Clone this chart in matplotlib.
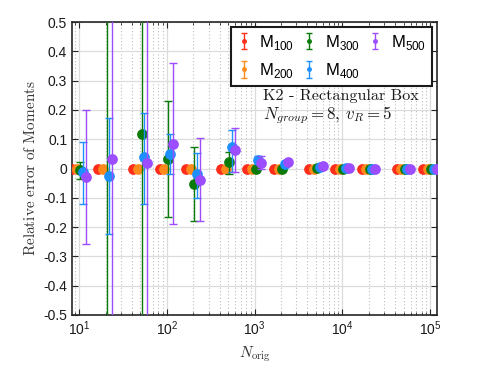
import numpy as np
import matplotlib
matplotlib.use("Agg")
import matplotlib.pyplot as plt
from matplotlib.ticker import LogLocator, NullFormatter

plt.rcParams['font.family'] = ['Liberation Sans', 'DejaVu Sans']
plt.rcParams['axes.unicode_minus'] = False

# ---- data ----
n_orig = [10, 20, 50, 100, 200, 500, 1000, 2000, 5000, 10000, 20000, 50000, 100000]
series_names = ['100', '200', '300', '400', '500']
series_colors = ['#ff2d1a', '#ff8a1c', '#0a7a0a', '#1e8fff', '#9b4dff']
x_shift = [0.83, 0.94, 1.03, 1.10, 1.19]   # horizontal jitter factors per series

m100_mean = [0, 0, 0, 0, 0, 0, 0, 0, 0, 0, 0, 0, 0]
m100_err = [0, 0, 0, 0, 0, 0, 0, 0, 0, 0, 0, 0, 0]
m200_mean = [0, 0, 0, 0, 0, 0, 0, 0, 0, 0, 0, 0, 0]
m200_err = [0, 0, 0, 0, 0, 0, 0, 0, 0, 0, 0, 0, 0]
m300_mean = [-0.004, 0.8, 0.117, 0.031, -0.053, 0.021, 0.0, 0.0, 0.002, 0.0, 0.0, 0.0, 0.0]
m300_err_lo = [0.031, 1.5, 1.0, 0.195, 0.126, 0.040, 0.002, 0.001, 0, 0, 0, 0, 0]
m300_err_hi = [0.027, 1.5, 1.0, 0.199, 0.127, 0.036, 0.002, 0.001, 0, 0, 0, 0, 0]
m400_mean = [-0.011, -0.024, 0.038, 0.048, -0.020, 0.074, 0.029, 0.014, 0.005, 0.001, 0.0, 0.0, 0.0]
m400_err_lo = [0.109, 0.201, 0.158, 0.068, 0.080, 0.087, 0.015, 0.004, 0.001, 0, 0, 0, 0]
m400_err_hi = [0.102, 0.197, 0.152, 0.069, 0.074, 0.057, 0.015, 0.004, 0.001, 0, 0, 0, 0]
m500_mean = [-0.030, 0.031, 0.018, 0.084, -0.039, 0.063, 0.020, 0.023, 0.008, 0.001, 0.0, 0.0, 0.0]
m500_err_lo = [0.229, 1.0, 1.0, 0.274, 0.140, 0.076, 0.023, 0.005, 0.002, 0, 0, 0, 0]
m500_err_hi = [0.230, 1.0, 1.0, 0.275, 0.144, 0.074, 0.023, 0.005, 0.002, 0, 0, 0, 0]

means = [m100_mean, m200_mean, m300_mean, m400_mean, m500_mean]
errs = [(m100_err, m100_err), (m200_err, m200_err), (m300_err_lo, m300_err_hi),
        (m400_err_lo, m400_err_hi), (m500_err_lo, m500_err_hi)]

yticks = [-0.5, -0.4, -0.3, -0.2, -0.1, 0, 0.1, 0.2, 0.3, 0.4, 0.5]
ytick_labels = ['-0.5', '-0.4', '-0.3', '-0.2', '-0.1', '0', '0.1', '0.2', '0.3', '0.4', '0.5']

# ---- figure ----
fig = plt.figure(figsize=(4.93, 3.81), dpi=100)
ax = fig.add_axes([72/493, 1-315/381, 365/493, 293/381])

n = np.array(n_orig, dtype=float)
for k in range(5):
    lo, hi = errs[k]
    ax.errorbar(n * x_shift[k], means[k], yerr=[lo, hi], fmt='o', ms=6.7,
                color=series_colors[k], mec=series_colors[k], ecolor=series_colors[k],
                elinewidth=1.0, capsize=3, capthick=1.0, zorder=3 + k)

ax.set_xscale('log')
ax.set_xlim(8.3, 1.2e5)
ax.set_ylim(-0.5, 0.5)
ax.set_yticks(yticks)
ax.set_yticklabels(ytick_labels)
ax.xaxis.set_major_locator(LogLocator(base=10, numticks=10))
ax.xaxis.set_minor_locator(LogLocator(base=10, subs=np.arange(2, 10), numticks=20))
ax.xaxis.set_minor_formatter(NullFormatter())

ax.grid(True, which='major', axis='both', color='#dcdcdc', lw=0.9, ls='-', zorder=0)
ax.grid(True, which='minor', axis='x', color='#bdbdbd', lw=0.8, ls=(0, (1, 2)), zorder=0)
ax.set_axisbelow(True)

ax.tick_params(which='both', direction='in', top=True, right=True, colors='#262626',
               labelsize=10, labelcolor='#1a1a1a')
ax.tick_params(which='major', length=4, width=0.8)
ax.tick_params(which='minor', length=2, width=0.6)
for sp in ax.spines.values():
    sp.set_color('#262626')
    sp.set_linewidth(1.2)

ax.set_ylabel(r'$\mathrm{Relative\ error\ of\ Moments}$', math_fontfamily='cm',
              fontsize=11, color='#333333', labelpad=4)
ax.set_xlabel(r'$N_{\mathrm{orig}}$', math_fontfamily='cm', fontsize=11,
              color='#333333', labelpad=4)

# legend proxies with small markers
handles = []
for k in range(5):
    h = ax.errorbar([np.nan], [np.nan], yerr=[[np.nan], [np.nan]], fmt='o', ms=2.5,
                    color=series_colors[k], elinewidth=1.0, capsize=2, capthick=1.0)
    handles.append(h)
labels = [r'M$_{\mathdefault{%s}}$' % s for s in series_names]
leg = ax.legend(handles, labels, ncol=3, loc='upper right',
                bbox_to_anchor=(1 - 5/365, 1 - 5/293), borderaxespad=0,
                fontsize=12, frameon=True, fancybox=False, edgecolor='#1a1a1a',
                handlelength=0.8, handletextpad=0.55, columnspacing=0.5,
                labelspacing=0.55, borderpad=0.35)
leg.get_frame().set_linewidth(1.5)
leg.get_frame().set_facecolor('white')
leg.get_frame().set_alpha(1)
leg.set_zorder(20)

ax.text(0.523, 0.734, 'K2 - Rectangular Box', transform=ax.transAxes,
        family='cmr10', fontsize=11.7, va='baseline', ha='left', color='#1a1a1a', zorder=21)
ax.text(0.523, 0.668, r'$N_{group} = 8$' + ', ' + r'$v_R = 5$', transform=ax.transAxes,
        family='cmr10', math_fontfamily='cm', fontsize=12.2, va='baseline', ha='left',
        color='#1a1a1a', zorder=21)

fig.savefig('out.png', dpi=100)
